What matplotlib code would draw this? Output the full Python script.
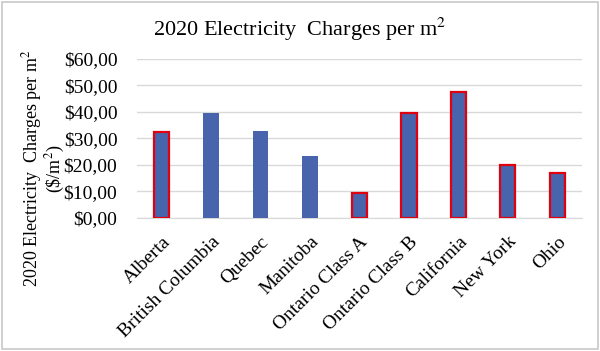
import matplotlib
matplotlib.use('Agg')
import matplotlib.pyplot as plt
from matplotlib.patches import Rectangle
from matplotlib.ticker import FuncFormatter

plt.rcParams['font.family'] = ['Liberation Serif', 'DejaVu Serif']

# Data
regions = ['Alberta', 'British Columbia', 'Quebec', 'Manitoba', 'Ontario Class A',
           'Ontario Class B', 'California', 'New York', 'Ohio']
charges = [32.3, 39.5, 32.9, 23.4, 9.6, 39.6, 47.4, 20.0, 16.9]
outlined = [True, False, False, False, True, True, True, True, True]
yticks = [0, 10, 20, 30, 40, 50, 60]

fig = plt.figure(figsize=(6, 3.51), dpi=100)
ax = fig.add_axes([0.228, 0.379, 0.742, 0.453])

fill = '#4864ac'
edges = ['#e00010' if o else fill for o in outlined]
widths = [1.6 if o else 0.0 for o in outlined]
ax.bar(range(len(regions)), charges, width=0.31, color=fill,
       edgecolor=edges, linewidth=widths, zorder=3)

ax.set_xlim(-0.5, len(regions) - 0.5)
ax.set_ylim(0, 60)
ax.set_yticks(yticks)
ax.yaxis.set_major_formatter(FuncFormatter(lambda v, p: ('$%.2f' % v).replace('.', ',')))
ax.grid(axis='y', color='#d9d9d9', linewidth=1.0, zorder=0)
for s in ['top', 'right', 'left']:
    ax.spines[s].set_visible(False)
ax.spines['bottom'].set_color('#d9d9d9')
ax.tick_params(axis='both', length=0, labelsize=14, colors='black')
ax.tick_params(axis='y', pad=14)
ax.set_xticks(range(len(regions)))
ax.set_xticklabels(regions, rotation=45, ha='right', rotation_mode='anchor')
ax.tick_params(axis='x', pad=11)

fig.text(0.5, 0.915, '2020 Electricity  Charges per m$^2$', ha='center', va='center',
         fontsize=16, math_fontfamily='stix')
fig.text(0.072, 0.52, '2020 Electricity  Charges per m$^2$\n(\\$/m$^2$)', rotation=90,
         ha='center', va='center', multialignment='center', fontsize=13,
         math_fontfamily='stix', linespacing=1.0)

fig.patches.append(Rectangle((0.003, 0.006), 0.994, 0.988, transform=fig.transFigure,
                             fill=False, edgecolor='#c8c8c8', linewidth=1.2))

plt.savefig('out.png', dpi=100)
plt.close('all')
